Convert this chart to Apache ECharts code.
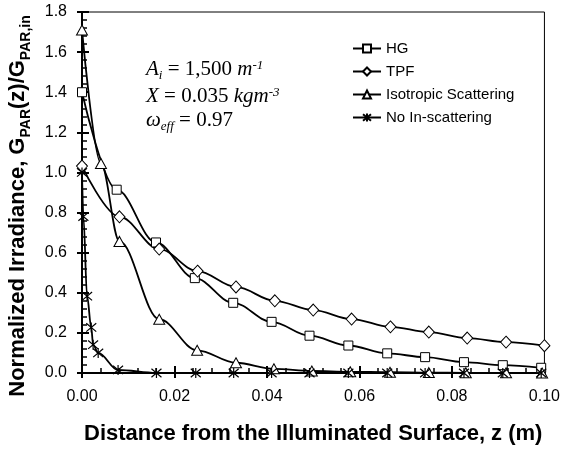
<!DOCTYPE html>
<html>
<head>
<meta charset="utf-8">
<script src="https://cdn.jsdelivr.net/npm/echarts@6/dist/echarts.min.js"></script>
<style>
  html, body { margin: 0; padding: 0; background: #fff; }
  #chart { width: 563px; height: 450px; }
</style>
</head>
<body>
<div id="chart"></div>
<script>
// Depth into the culture z (m) and normalized PAR irradiance for each scattering model
const hgZ  = [0, 0.0075, 0.016, 0.0244, 0.0327, 0.041, 0.0492, 0.0576, 0.066, 0.0742, 0.0826, 0.091, 0.0993];
const hgG  = [1.40, 0.914, 0.651, 0.473, 0.350, 0.255, 0.186, 0.137, 0.098, 0.079, 0.054, 0.039, 0.026];

const tpfZ = [0, 0.0081, 0.0167, 0.025, 0.0333, 0.0417, 0.05, 0.0583, 0.0667, 0.075, 0.0833, 0.0917, 0.1];
const tpfG = [1.032, 0.779, 0.618, 0.508, 0.429, 0.360, 0.314, 0.269, 0.230, 0.204, 0.174, 0.154, 0.136];

const isoZ = [0, 0.0041, 0.0081, 0.0167, 0.0249, 0.0333, 0.0415, 0.0497, 0.058, 0.0666, 0.075, 0.083, 0.0917, 0.0995];
const isoG = [1.71, 1.045, 0.656, 0.268, 0.113, 0.051, 0.021, 0.010, 0.006, 0.004, 0.002, 0.001, 0.001, 0.0];

const noZ  = [0, 0.0003, 0.0011, 0.002, 0.0024, 0.0035, 0.0078, 0.0161, 0.0246, 0.0328, 0.041, 0.0492, 0.0576, 0.066, 0.0742, 0.0826, 0.091, 0.0993];
const noG  = [1.0, 0.78, 0.383, 0.227, 0.141, 0.10, 0.015, 0, 0, 0, 0, 0, 0, 0, 0, 0, 0, 0];

const seriesNames = ['HG', 'TPF', 'Isotropic Scattering', 'No In-scattering'];

// Axis tick labels
const xTicks = ['0.00', '0.02', '0.04', '0.06', '0.08', '0.10'];
const yTicks = ['0.0', '0.2', '0.4', '0.6', '0.8', '1.0', '1.2', '1.4', '1.6', '1.8'];

const xMin = parseFloat(xTicks[0]), xMax = parseFloat(xTicks[xTicks.length - 1]);
const xStep = parseFloat(xTicks[1]) - xMin;
const yMin = parseFloat(yTicks[0]), yMax = parseFloat(yTicks[yTicks.length - 1]);
const yStep = parseFloat(yTicks[1]) - yMin;

const SANS = '"Liberation Sans", Arial, sans-serif';
const SERIF = '"Liberation Serif", "Times New Roman", serif';
const INK = '#000';

const zip = (xs, ys) => xs.map((x, i) => [x, ys[i]]);

// Asterisk marker: an X crossed by a vertical stroke
const asterisk = 'path://M0,0L10,10M10,0L0,10M5,-1L5,11';

function lineSeries(name, data, symbol, size, extra) {
  return Object.assign({
    name: name,
    type: 'line',
    data: data,
    smooth: 0.35,
    smoothMonotone: 'x',
    symbol: symbol,
    symbolSize: size,
    showSymbol: true,
    lineStyle: { color: INK, width: 1.8 },
    itemStyle: { color: '#fff', borderColor: INK, borderWidth: 1 },
    emphasis: { disabled: true },
    animation: false
  }, extra || {});
}

const chart = echarts.init(document.getElementById('chart'), null, { renderer: 'canvas' });

const baseX = { type: 'value', min: xMin, max: xMax, interval: xStep, splitLine: { show: false } };
const baseY = { type: 'value', min: yMin, max: yMax, interval: yStep, splitLine: { show: false } };

chart.setOption({
  animation: false,
  backgroundColor: '#fff',
  grid: {
    left: 82, right: 14, top: 12, bottom: 73,
    show: true, borderColor: INK, borderWidth: 1, backgroundColor: 'transparent'
  },
  legend: {
    data: seriesNames,
    orient: 'vertical',
    left: 347, top: 36,
    itemWidth: 28, itemHeight: 10, itemGap: 8,
    textStyle: { color: INK, fontSize: 15, fontFamily: SANS },
    selectedMode: false
  },
  xAxis: [
    Object.assign({}, baseX, {
      position: 'bottom',
      axisLine: { show: true, onZero: false, lineStyle: { color: INK, width: 2 } },
      axisTick: { show: true, inside: false, length: 5, lineStyle: { color: INK, width: 2 } },
      axisLabel: {
        color: INK, fontSize: 16, fontFamily: SANS, margin: 16,
        formatter: v => xTicks[Math.round((v - xMin) / xStep)]
      },
      name: 'Distance from the Illuminated Surface, z (m)',
      nameLocation: 'middle', nameGap: 50,
      nameTextStyle: { color: INK, fontSize: 22, fontWeight: 'bold', fontFamily: SANS }
    }),
    Object.assign({}, baseX, {
      position: 'bottom',
      axisLine: { show: false, onZero: false },
      axisTick: { show: true, inside: true, length: 7, lineStyle: { color: INK, width: 2 } },
      minorTick: { show: true, splitNumber: 5, length: 5, lineStyle: { color: INK, width: 1.5 } },
      axisLabel: { show: false }
    })
  ],
  yAxis: [
    Object.assign({}, baseY, {
      position: 'left',
      axisLine: { show: true, onZero: false, lineStyle: { color: INK, width: 2 } },
      axisTick: { show: true, inside: false, length: 5, lineStyle: { color: INK, width: 2 } },
      axisLabel: {
        color: INK, fontSize: 16, fontFamily: SANS, margin: 15,
        formatter: v => yTicks[Math.round((v - yMin) / yStep)]
      }
    }),
    Object.assign({}, baseY, {
      position: 'left',
      axisLine: { show: false, onZero: false },
      axisTick: { show: true, inside: true, length: 7, lineStyle: { color: INK, width: 2 } },
      minorTick: { show: true, splitNumber: 5, length: 5, lineStyle: { color: INK, width: 1.5 } },
      axisLabel: { show: false }
    })
  ],
  graphic: [
    {
      type: 'text', x: 18, y: 206, rotation: Math.PI / 2, z: 10,
      style: {
        text: '{b|Normalized Irradiance, G}{s|PAR}{b|(z)/G}{s|PAR,in}',
        align: 'center', verticalAlign: 'middle',
        rich: {
          b: { fill: INK, fontFamily: SANS, fontWeight: 'bold', fontSize: 22, lineHeight: 30 },
          s: { fill: INK, fontFamily: SANS, fontWeight: 'bold', fontSize: 14, lineHeight: 10, verticalAlign: 'bottom' }
        }
      }
    },
    {
      type: 'text', left: 146, top: 56, z: 10,
      style: {
        text: '{i|A}{sb|i}{r| = 1,500 }{i|m}{sp|-1}',
        rich: {
          i: { fill: INK, fontFamily: SERIF, fontStyle: 'italic', fontSize: 21, lineHeight: 26 },
          r: { fill: INK, fontFamily: SERIF, fontSize: 21, lineHeight: 26 },
          sb: { fill: INK, fontFamily: SERIF, fontStyle: 'italic', fontSize: 13, lineHeight: 10, verticalAlign: 'bottom' },
          sp: { fill: INK, fontFamily: SERIF, fontStyle: 'italic', fontSize: 13, lineHeight: 10, verticalAlign: 'top', padding: [3, 0, 0, 0] }
        }
      }
    },
    {
      type: 'text', left: 146, top: 83, z: 10,
      style: {
        text: '{i|X}{r| = 0.035 }{i|kgm}{sp|-3}',
        rich: {
          i: { fill: INK, fontFamily: SERIF, fontStyle: 'italic', fontSize: 21, lineHeight: 26 },
          r: { fill: INK, fontFamily: SERIF, fontSize: 21, lineHeight: 26 },
          sp: { fill: INK, fontFamily: SERIF, fontStyle: 'italic', fontSize: 13, lineHeight: 10, verticalAlign: 'top', padding: [3, 0, 0, 0] }
        }
      }
    },
    {
      type: 'text', left: 146, top: 110, z: 10,
      style: {
        text: '{i|ω}{sb|eff}{r| = 0.97}',
        rich: {
          i: { fill: INK, fontFamily: SERIF, fontStyle: 'italic', fontSize: 21, lineHeight: 26 },
          r: { fill: INK, fontFamily: SERIF, fontSize: 21, lineHeight: 26 },
          sb: { fill: INK, fontFamily: SERIF, fontStyle: 'italic', fontSize: 13, lineHeight: 10, verticalAlign: 'bottom' }
        }
      }
    }
  ],
  series: [
    lineSeries(seriesNames[0], zip(hgZ, hgG), 'rect', 9),
    lineSeries(seriesNames[1], zip(tpfZ, tpfG), 'diamond', [11, 12]),
    lineSeries(seriesNames[2], zip(isoZ, isoG), 'triangle', [11, 10]),
    lineSeries(seriesNames[3], zip(noZ, noG), asterisk, 10, {
      itemStyle: { color: INK, borderColor: INK, borderWidth: 1.2 }
    })
  ]
});
</script>
</body>
</html>
